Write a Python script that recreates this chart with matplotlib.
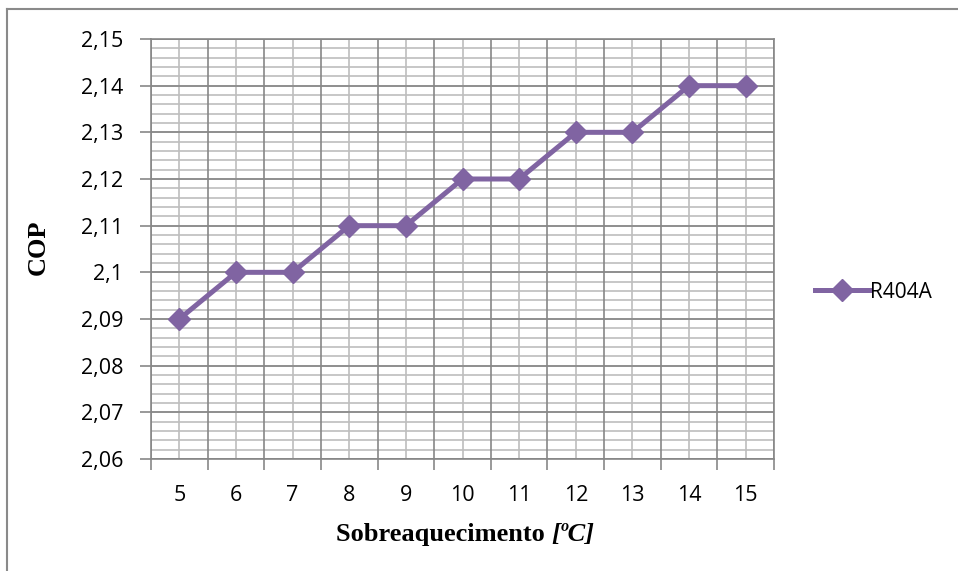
import numpy as np
import matplotlib.pyplot as plt
from matplotlib.lines import Line2D
from matplotlib.ticker import FixedLocator, FuncFormatter

categories = ["5", "6", "7", "8", "9", "10", "11", "12", "13", "14", "15"]
cop_r404a = [2.09, 2.10, 2.10, 2.11, 2.11, 2.12, 2.12, 2.13, 2.13, 2.14, 2.14]
y_ticks = [2.06, 2.07, 2.08, 2.09, 2.10, 2.11, 2.12, 2.13, 2.14, 2.15]

PURPLE = "#8064A2"
DARK_GRID = "#878787"
LIGHT_GRID = "#BEBEBE"
TICK_FONT = "Open Sans"
LABEL_FONT = "Liberation Serif"

fig = plt.figure(figsize=(9.58, 5.71), dpi=100)
ax = fig.add_axes([151 / 958, 1 - 459 / 571, (774 - 151) / 958, (459 - 39) / 571])

x = np.arange(len(categories))

# grid: minor horizontal every 0.002, major every 0.01
minor_y = np.round(np.arange(2.06, 2.1501, 0.002), 4)
for yv in minor_y:
    ax.axhline(yv, color=LIGHT_GRID, linewidth=1.2, zorder=0)
for yv in y_ticks:
    ax.axhline(yv, color=DARK_GRID, linewidth=1.2, zorder=1)
# vertical: light at category centers, dark at boundaries
for xv in x:
    ax.axvline(xv, color=LIGHT_GRID, linewidth=1.2, zorder=0)
for xv in np.arange(-0.5, len(categories), 1.0):
    ax.axvline(xv, color=DARK_GRID, linewidth=1.2, zorder=1)

ax.plot(x, cop_r404a, color=PURPLE, linewidth=3.6, marker="D", markersize=11,
        markeredgecolor=PURPLE, zorder=3, clip_on=False)

ax.set_xlim(-0.5, len(categories) - 0.5)
ax.set_ylim(2.06, 2.15)

ax.yaxis.set_major_locator(FixedLocator(y_ticks))
ax.yaxis.set_major_formatter(FuncFormatter(lambda v, p: f"{v:g}".replace(".", ",")))
ax.set_xticks(x)
ax.set_xticklabels(categories)
ax.xaxis.set_minor_locator(FixedLocator(np.arange(-0.5, len(categories), 1.0)))
ax.tick_params(axis="x", which="major", length=0, pad=19)
ax.tick_params(axis="x", which="minor", length=8, width=1.2, color=DARK_GRID, direction="out")
ax.tick_params(axis="y", which="major", length=8, width=1.2, color=DARK_GRID, direction="out", pad=12)
for lab in ax.get_xticklabels() + ax.get_yticklabels():
    lab.set_fontfamily(TICK_FONT)
    lab.set_fontsize(15.5)
    lab.set_color("black")

for sp in ax.spines.values():
    sp.set_color(DARK_GRID)
    sp.set_linewidth(1.2)

# x label: bold part + bold italic unit
fig.text(551 / 958, 1 - 534 / 571, "Sobreaquecimento ", ha="right", va="center",
         family=LABEL_FONT, fontweight="bold", fontsize=19)
fig.text(551 / 958, 1 - 534 / 571, "[ºC]", ha="left", va="center",
         family=LABEL_FONT, fontweight="bold", style="italic", fontsize=19)
fig.text(38 / 958, 1 - 247 / 571, "COP", ha="center", va="center", rotation=90,
         family=LABEL_FONT, fontweight="bold", fontsize=19)

handle = Line2D([], [], color=PURPLE, linewidth=3.6, marker="D", markersize=11)
leg = fig.legend([handle], ["R404A"], loc="center left", bbox_to_anchor=(796 / 958, 1 - 292 / 571),
                 frameon=False, handlelength=2.65, handletextpad=0.0,
                 prop={"family": TICK_FONT, "size": 15})

# outer chart border (top and left visible)
fig.add_artist(Line2D([7 / 958, 7 / 958], [0, 1 - 9 / 571], transform=fig.transFigure,
                      color="#8A8A8A", linewidth=1.5))
fig.add_artist(Line2D([7 / 958, 1], [1 - 9 / 571, 1 - 9 / 571], transform=fig.transFigure,
                      color="#8A8A8A", linewidth=1.5))

fig.savefig("out.png", dpi=100)
